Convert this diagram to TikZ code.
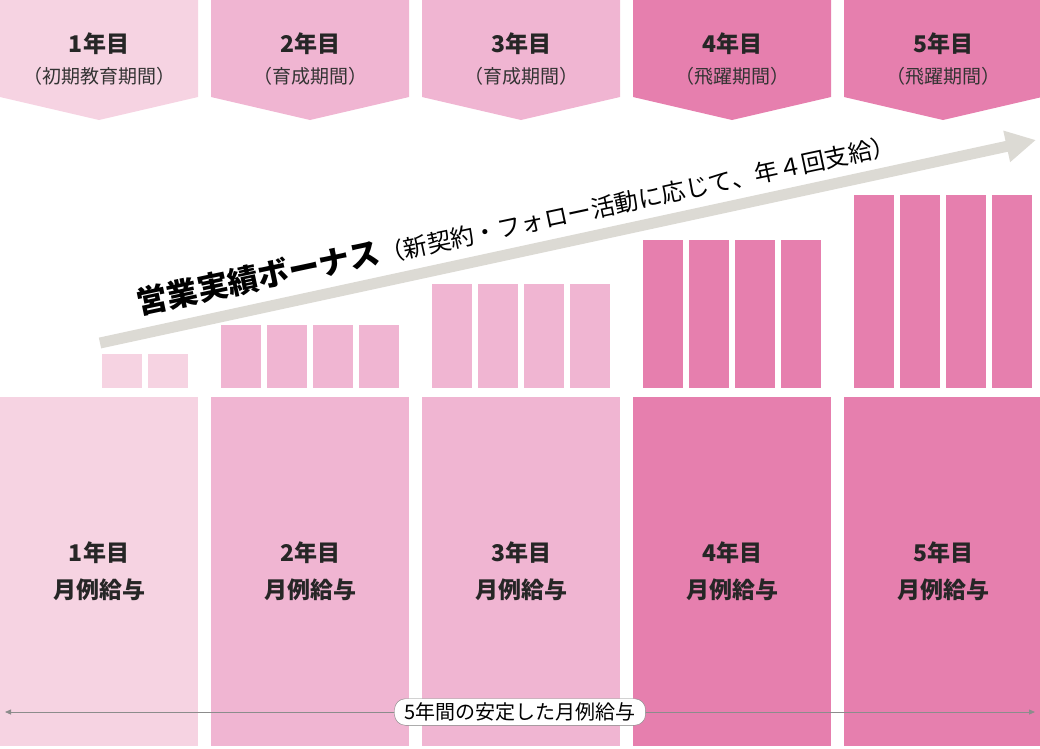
\documentclass[tikz,border=0pt]{standalone}
\usepackage{fontspec}
\setmainfont{Noto Sans CJK JP}
\usetikzlibrary{arrows.meta}
\definecolor{cA}{HTML}{F6D3E2}
\definecolor{cB}{HTML}{F0B5D2}
\definecolor{cC}{HTML}{E67FAE}
\definecolor{arr}{HTML}{DCDAD4}
\tikzset{
 big/.style={font=\bfseries\fontsize{23}{37}\selectfont,text=black!85,align=center},
 ban1/.style={font=\bfseries\fontsize{23}{26}\selectfont,text=black!85},
 ban2/.style={font=\fontsize{19}{22}\selectfont,text=black!80},
}
\begin{document}
\begin{tikzpicture}[x=1pt,y=-1pt]
\useasboundingbox (0,0) rectangle (1040,748);
\foreach \i/\c/\h/\t/\s in {0/cA/354/1/初期教育期間,1/cB/325/2/育成期間,2/cB/284/3/育成期間,3/cC/240/4/飛躍期間,4/cC/195/5/飛躍期間}{
  \pgfmathsetmacro\L{211*\i}
  \pgfmathsetmacro\R{\L+198}
  \pgfmathsetmacro\M{\L+99}
  \fill[\c] (\L,0) -- (\R,0) -- (\R,97) -- (\M,120) -- (\L,97) -- cycle;
  \node[ban1] (t\i) at (\M,44) {\t 年目};
  \node[ban2] (p\i) at (\M,76) {（\s）};
  \fill[\c] (\L,397) rectangle (\R,746);
  \node[big] (m\i) at (\M,571) {\t 年目\\月例給与};
  \ifnum\i=0
    \foreach \k in {2,3}{\fill[\c] (\L+10+46*\k,\h) rectangle ++(40,34);}
  \else
    \foreach \k in {0,1,2,3}{\fill[\c] (\L+10+46*\k,\h) rectangle (\L+50+46*\k,388);}
  \fi
}
\coordinate (as) at (100,343);
\coordinate (ae) at (1036,140);
\draw[arr,line width=11pt,-{Triangle[length=30pt,width=30pt]}] (as) -- (ae);
\node[rotate=12,anchor=south west,inner sep=0pt] (bt) at (140,318)
 {\bfseries\fontsize{31}{34}\selectfont 営業実績ボーナス\mdseries\fontsize{24}{28}\selectfont（新契約・フォロー活動に応じて、年４回支給）};
\coordinate (bl) at (5,712);
\coordinate (br) at (1035,712);
\draw[black!45,line width=0.8pt,{Triangle[length=6pt,width=5pt]}-{Triangle[length=6pt,width=5pt]}] (bl) -- (br);
\node[draw=black!50,fill=white,rounded corners=11pt,font=\fontsize{20}{24}\selectfont,inner xsep=10pt,inner ysep=4pt] (lbl) at (520,712) {5年間の安定した月例給与};
\end{tikzpicture}
\end{document}
